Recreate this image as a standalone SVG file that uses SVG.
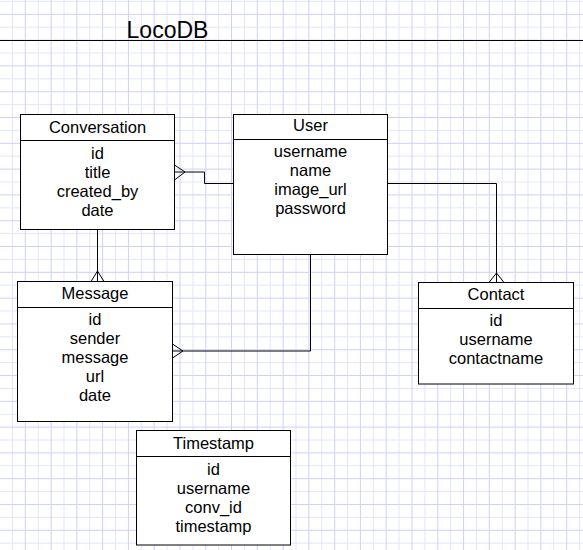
<svg xmlns="http://www.w3.org/2000/svg" width="583" height="550" viewBox="0 0 583 550">
<style>
.minor{stroke:#e4e4ff;stroke-width:1;fill:none}
.major{stroke:#cfcfff;stroke-width:1;fill:none}
.box{fill:#fff;stroke:#000;stroke-width:1}
.sep{stroke:#000;stroke-width:1}
.t{font-family:"Liberation Sans",Arial,sans-serif;font-size:16.5px;fill:#000;text-anchor:middle}
.conn{fill:none;stroke:#000;stroke-width:1}
</style>
<rect width="583" height="550" fill="#fff"/>
<g id="grid">
<path class="minor" d="M12.4,0V550M38.2,0V550M64,0V550M89.8,0V550M115.5,0V550M141.3,0V550M167.1,0V550M192.9,0V550M218.7,0V550M244.4,0V550M270.2,0V550M296,0V550M321.8,0V550M347.6,0V550M373.3,0V550M399.1,0V550M424.9,0V550M450.7,0V550M476.5,0V550M502.2,0V550M528,0V550M553.8,0V550M579.6,0V550M0,1.4H583M0,27.2H583M0,53H583M0,78.8H583M0,104.6H583M0,130.4H583M0,156.2H583M0,182H583M0,207.8H583M0,233.6H583M0,259.4H583M0,285.2H583M0,311H583M0,336.8H583M0,362.6H583M0,388.4H583M0,414.2H583M0,440H583M0,465.8H583M0,491.6H583M0,517.4H583M0,543.2H583"/>
<path class="major" d="M25.3,0V550M51.1,0V550M76.9,0V550M102.6,0V550M128.4,0V550M154.2,0V550M180,0V550M205.8,0V550M231.5,0V550M257.3,0V550M283.1,0V550M308.9,0V550M334.7,0V550M360.4,0V550M386.2,0V550M412,0V550M437.8,0V550M463.6,0V550M489.3,0V550M515.1,0V550M540.9,0V550M566.7,0V550M0,14.3H583M0,40.1H583M0,65.9H583M0,91.7H583M0,117.5H583M0,143.3H583M0,169.1H583M0,194.9H583M0,220.7H583M0,246.5H583M0,272.3H583M0,298.1H583M0,323.9H583M0,349.7H583M0,375.5H583M0,401.3H583M0,427.1H583M0,452.9H583M0,478.7H583M0,504.5H583M0,530.3H583"/>
</g>
<g id="title">
<text x="167.5" y="37.5" style="font-family:'Liberation Sans',Arial,sans-serif;font-size:23px;fill:#000;text-anchor:middle">LocoDB</text>
<line x1="0" y1="40.5" x2="583" y2="40.5" stroke="#000" stroke-width="1"/>
</g>
<g id="connectors">
<path class="conn" d="M174.5,172H204.5V183.5H233.5"/>
<path class="conn" d="M174.5,165L185,172L174.5,180"/>
<path class="conn" d="M97.5,229.5V281.5"/>
<path class="conn" d="M91,281.5L97.5,271L104,281.5"/>
<path class="conn" d="M172.5,351H310.5V254.5"/>
<path class="conn" d="M172.5,344L183,351L172.5,358"/>
<path class="conn" d="M387.5,183.5H496.5V282.5"/>
<path class="conn" d="M489,282.5L496.5,273L504,282.5"/>
</g>
<g id="conversation">
<rect class="box" x="20.5" y="114.5" width="154" height="115"/>
<line class="sep" x1="20.5" y1="140.5" x2="174.5" y2="140.5"/>
<text class="t" x="97.5" y="133.3">Conversation</text>
<text class="t" x="97.5" y="159">id</text>
<text class="t" x="97.5" y="178">title</text>
<text class="t" x="97.5" y="197">created_by</text>
<text class="t" x="97.5" y="215.5">date</text>
</g>
<g id="user">
<rect class="box" x="233.5" y="114.5" width="154" height="140"/>
<line class="sep" x1="233.5" y1="139.5" x2="387.5" y2="139.5"/>
<text class="t" x="310.5" y="131">User</text>
<text class="t" x="310.5" y="157">username</text>
<text class="t" x="310.5" y="176">name</text>
<text class="t" x="310.5" y="195">image_url</text>
<text class="t" x="310.5" y="213.5">password</text>
</g>
<g id="message">
<rect class="box" x="17.5" y="281.5" width="155" height="140"/>
<line class="sep" x1="17.5" y1="307.5" x2="172.5" y2="307.5"/>
<text class="t" x="95" y="299.3">Message</text>
<text class="t" x="95" y="325">id</text>
<text class="t" x="95" y="344">sender</text>
<text class="t" x="95" y="363">message</text>
<text class="t" x="95" y="382">url</text>
<text class="t" x="95" y="400.7">date</text>
</g>
<g id="contact">
<rect class="box" x="418.5" y="282.5" width="155" height="101.5"/>
<line class="sep" x1="418.5" y1="308.5" x2="573.5" y2="308.5"/>
<text class="t" x="496" y="300.3">Contact</text>
<text class="t" x="496" y="326">id</text>
<text class="t" x="496" y="345">username</text>
<text class="t" x="496" y="364">contactname</text>
</g>
<g id="timestamp">
<rect class="box" x="136.5" y="430.5" width="154" height="114.5"/>
<line class="sep" x1="136.5" y1="456.5" x2="290.5" y2="456.5"/>
<text class="t" x="213.5" y="449.3">Timestamp</text>
<text class="t" x="213.5" y="475">id</text>
<text class="t" x="213.5" y="494">username</text>
<text class="t" x="213.5" y="513">conv_id</text>
<text class="t" x="213.5" y="531.7">timestamp</text>
</g>
</svg>
